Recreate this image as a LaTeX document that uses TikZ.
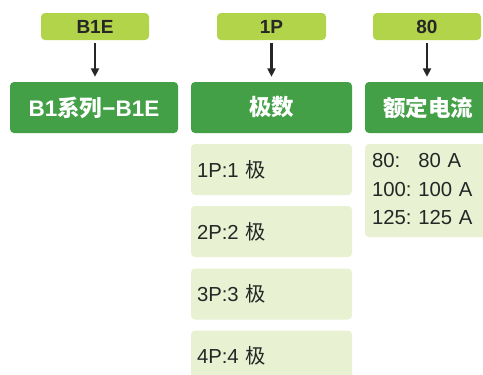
\documentclass[tikz,border=0pt]{standalone}
\usepackage{fontspec}
\setmainfont{Liberation Sans}
\newfontfamily\cjk{Noto Sans CJK SC}
\usetikzlibrary{arrows.meta, positioning}
\definecolor{tagfill}{RGB}{178,212,74}
\definecolor{headfill}{RGB}{67,160,71}
\definecolor{itemfill}{RGB}{232,241,210}
\definecolor{inkdark}{RGB}{38,38,38}
\tikzset{
  tagbox/.style={
    fill=tagfill,
    draw=none,
    rounded corners=4pt,
    minimum width=108pt,
    minimum height=27pt,
    inner sep=0pt,
    font=\fontsize{19}{22}\selectfont\bfseries,
    text=inkdark
  },
  headbox/.style={
    fill=headfill,
    draw=none,
    rounded corners=4pt,
    minimum width=161pt,
    minimum height=51pt,
    inner sep=0pt,
    font=\fontsize{22.5}{26}\selectfont\bfseries,
    text=white
  },
  itembox/.style={
    fill=itemfill,
    draw=none,
    rounded corners=4pt,
    minimum width=161pt,
    minimum height=51pt,
    inner xsep=6pt,
    inner ysep=0pt,
    text width=149pt,
    align=left,
    font=\fontsize{20.3}{28.5}\selectfont,
    text=inkdark
  },
  arrow/.style={-{Triangle[length=8.5pt, width=8pt]}, line width=2.6pt, draw=inkdark}
}

\begin{document}
\begin{tikzpicture}[x=1pt,y=-1pt]
    \clip (0,0) rectangle (483,375);
    \fill[white] (0,0) rectangle (483,375);

    % series
    \node[tagbox] (tagseries) at (95,26.5) {B1E};
    \node[headbox, minimum width=168pt] (series) at (94,107.5) {B1{\cjk 系列}−B1E};

    % poles
    \node[tagbox, minimum width=109pt] (tagpoles) at (271.5,26.5) {1P};
    \node[headbox] (poles) at (271.5,107.5) {{\cjk 极数}};
    \node[itembox] (p1) at (271.5,169.5) {1P:1 {\cjk 极}};
    \node[itembox] (p2) at (271.5,231.5) {2P:2 {\cjk 极}};
    \node[itembox] (p3) at (271.5,294) {3P:3 {\cjk 极}};
    \node[itembox] (p4) at (271.5,356) {4P:4 {\cjk 极}};

    % current
    \node[tagbox] (tagcurrent) at (427,26.5) {80};
    \node[headbox, inner xsep=0pt] (current) at (445.5,107.5) {\hspace*{-35pt}{\cjk 额定电流}};
    \node[itembox, minimum height=93pt, inner xsep=7pt, text width=147pt] (amps) at (445.5,190.5)
      {\begin{tabular}{@{}l@{\ }l@{}}80: & 80 A\\100: & 100 A\\125: & 125 A\end{tabular}};

    \draw[arrow] ([yshift=-3pt]tagseries.south) -- ([yshift=5pt]tagseries.south |- series.north);
    \draw[arrow] ([yshift=-3pt]tagpoles.south) -- ([yshift=5pt]tagpoles.south |- poles.north);
    \draw[arrow] ([yshift=-3pt]tagcurrent.south) -- ([yshift=5pt]tagcurrent.south |- current.north);
  \end{tikzpicture}
\end{document}
